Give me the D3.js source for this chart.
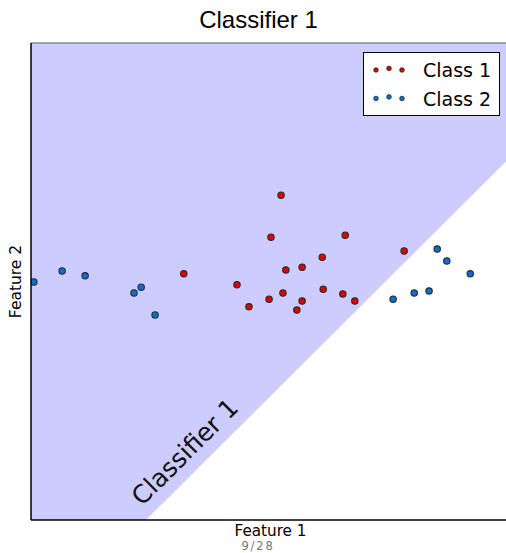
<!DOCTYPE html>
<html>
<head>
<meta charset="utf-8">
<script src="https://cdn.jsdelivr.net/npm/d3@7"></script>
<style>
  html, body { margin: 0; padding: 0; background: #ffffff; }
  svg { display: block; }
</style>
</head>
<body>
<svg id="chart" width="506" height="553"></svg>
<script>
// Two-class toy data set and a linear decision boundary (y = x + offset)
const class1X = [-1.81, -0.70, -0.45, -0.03, 0.01, 0.22, 1.56, 2.79, 1.08, 0.32, 0.66, 1.10, 0.26, 0.66, 0.55, 1.51, 1.76];
const class1Y = [0.16, -0.07, -0.53, -0.37, 0.93, 1.81, 0.97, 0.64, 0.51, 0.24, 0.30, -0.16, -0.24, -0.41, -0.60, -0.26, -0.41];
const class2X = [-4.94, -4.35, -3.87, -2.85, -2.70, -2.41, 3.48, 3.68, 4.17, 2.56, 3.00, 3.31];
const class2Y = [-0.01, 0.22, 0.12, -0.24, -0.12, -0.70, 0.68, 0.43, 0.16, -0.37, -0.24, -0.20];
const boundarySlope = 1.0;
const boundaryOffset = -2.4;
const legendLabels = ["Class 1", "Class 2"];
const chartTitle = "Classifier 1";
const xLabel = "Feature 1";
const yLabel = "Feature 2";
const pageLabel = "9/28";

const svg = d3.select("#chart");
const plot = { left: 31, right: 510, top: 43, bottom: 520 };
const x = d3.scaleLinear().domain([-5, 5]).range([plot.left, plot.right]);
const y = d3.scaleLinear().domain([-5, 5]).range([plot.bottom, plot.top]);

const red = "#e00000", blue = "#0a6fd0", edge = "#2a2a2a";

svg.append("defs").append("clipPath").attr("id", "plotClip")
  .append("rect").attr("x", plot.left).attr("y", plot.top)
  .attr("width", plot.right - plot.left).attr("height", plot.bottom - plot.top);

const g = svg.append("g").attr("clip-path", "url(#plotClip)");

// Region assigned to class 1: everything above the boundary line
const [x0, x1] = x.domain();
const [y0, y1] = y.domain();
const lineY = v => boundarySlope * v + boundaryOffset;
const xAtBottom = (y0 - boundaryOffset) / boundarySlope;
const region = [[x0, y0], [xAtBottom, y0], [x1, lineY(x1)], [x1, y1], [x0, y1]];
g.append("path")
  .attr("d", d3.line().x(d => x(d[0])).y(d => y(d[1]))(region) + "Z")
  .attr("fill", "#ccccff");

// Label along the boundary
const labX = -1.66, labY = -3.70;
const angle = -Math.atan2(y(0) - y(boundarySlope), x(1) - x(0)) * 180 / Math.PI;
g.append("text")
  .attr("transform", `translate(${x(labX)},${y(labY)}) rotate(${angle})`)
  .attr("text-anchor", "middle")
  .attr("font-family", "DejaVu Sans")
  .attr("font-size", 25)
  .attr("fill", "#111")
  .text(chartTitle);

// Data points
const pts1 = class1X.map((v, i) => [v, class1Y[i]]);
const pts2 = class2X.map((v, i) => [v, class2Y[i]]);
[[pts1, red], [pts2, blue]].forEach(([pts, col]) => {
  g.selectAll(null).data(pts).enter().append("circle")
    .attr("cx", d => x(d[0])).attr("cy", d => y(d[1]))
    .attr("r", 3.2)
    .attr("fill", col).attr("stroke", edge).attr("stroke-width", 1.1);
});

// Frame
svg.append("line").attr("x1", plot.left).attr("x2", 506).attr("y1", plot.top).attr("y2", plot.top)
  .attr("stroke", "#8a8a8a").attr("stroke-width", 1.5);
svg.append("line").attr("x1", plot.left).attr("x2", plot.left).attr("y1", plot.top).attr("y2", plot.bottom)
  .attr("stroke", "#000").attr("stroke-width", 1.5);
svg.append("line").attr("x1", plot.left).attr("x2", 506).attr("y1", plot.bottom).attr("y2", plot.bottom)
  .attr("stroke", "#000").attr("stroke-width", 1.5);

// Title and axis labels
svg.append("text").attr("x", 258.5).attr("y", 28).attr("text-anchor", "middle")
  .attr("font-family", "Liberation Sans").attr("font-size", 24).attr("fill", "#000")
  .text(chartTitle);
svg.append("text").attr("x", (plot.left + plot.right) / 2).attr("y", 535.5).attr("text-anchor", "middle")
  .attr("font-family", "DejaVu Sans").attr("font-size", 15.2).attr("fill", "#000")
  .text(xLabel);
svg.append("text").attr("transform", `translate(21,${(plot.top + plot.bottom) / 2}) rotate(-90)`)
  .attr("text-anchor", "middle")
  .attr("font-family", "DejaVu Sans").attr("font-size", 15.5).attr("fill", "#000")
  .text(yLabel);
svg.append("text").attr("x", 258).attr("y", 550).attr("text-anchor", "middle")
  .attr("font-family", "DejaVu Sans").attr("font-size", 11.5).attr("fill", "#777")
  .attr("letter-spacing", 1.8)
  .text(pageLabel);

// Legend
const legend = svg.append("g");
legend.append("rect").attr("x", 363.5).attr("y", 52.5).attr("width", 136).attr("height", 63)
  .attr("fill", "#fff").attr("stroke", "#000").attr("stroke-width", 1);
const dotDx = [376, 389, 402], dotDy = [0, -1.6, 0];
[red, blue].forEach((col, i) => {
  const cy = 70 + i * 28.5;
  dotDx.forEach((dx, j) => {
    legend.append("circle").attr("cx", dx).attr("cy", cy + dotDy[j]).attr("r", 2.3)
      .attr("fill", col).attr("stroke", edge).attr("stroke-width", 0.8);
  });
  legend.append("text").attr("x", 423).attr("y", cy + 7)
    .attr("font-family", "DejaVu Sans").attr("font-size", 19).attr("fill", "#000")
    .text(legendLabels[i]);
});
</script>
</body>
</html>
